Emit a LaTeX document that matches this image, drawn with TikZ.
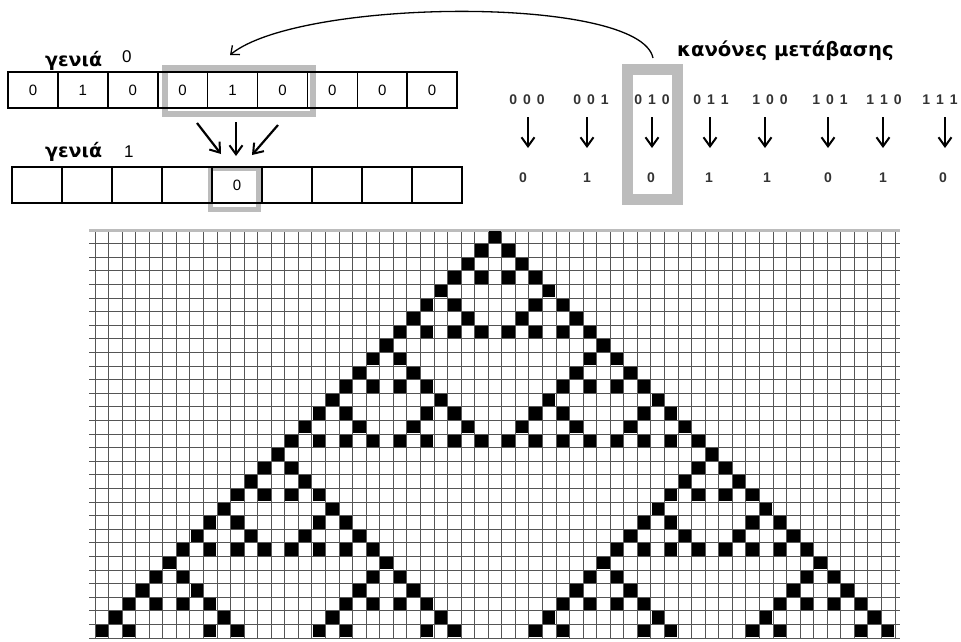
\documentclass[tikz,border=0pt]{standalone}
\usepackage{fontspec}
\setmainfont{Liberation Sans}
\newfontfamily\grk{DejaVu Sans}
\usetikzlibrary{arrows.meta,backgrounds}
\definecolor{hl}{RGB}{188,188,188}
\definecolor{gridc}{RGB}{85,85,85}
\newcommand\myspaced[3]{#1\hspace{6pt}#2\hspace{6pt}#3}
\begin{document}
\begin{tikzpicture}[x=1pt,y=-1pt,
  cellbox/.style={draw=black,line width=1.6pt,minimum width=49.9pt,minimum height=36pt,inner sep=0pt,font=\fontsize{15}{15}\selectfont},
  genlabel/.style={font=\grk\bfseries\fontsize{19}{19}\selectfont,inner sep=0pt,anchor=base west},
  gennum/.style={font=\fontsize{17}{17}\selectfont,inner sep=0pt,anchor=base west},
  rulelbl/.style={font=\bfseries\fontsize{14}{14}\selectfont,text=black!80,inner sep=0pt},
  downarrow/.style={line width=2.2pt,-{Straight Barb[length=9pt,width=13pt,line width=2pt]}},
  hlframe/.style={draw=hl},
  gridline/.style={draw=gridc,line width=0.9pt},
]
\useasboundingbox (0,0) rectangle (961,641);

% generation 0
\node[genlabel] (lab0) at (45,66) {γενιά};
\node[gennum] (num0) at (122,62) {0};
\foreach \d [count=\i from 0] in {0,1,0,0,1,0,0,0,0}
  \node[cellbox] (g0c\i) at ({8+49.9*(\i+0.5)},90) {\d};

% generation 1
\node[genlabel] (lab1) at (45,157) {γενιά};
\node[gennum] (num1) at (124,157) {1};
\foreach \d [count=\i from 0] in {{},{},{},{},0,{},{},{},{}}
  \node[cellbox,minimum width=50pt] (g1c\i) at ({12+50*(\i+0.5)},185) {\d};

\begin{scope}[on background layer]
  \draw[hlframe,line width=6pt] (165,68) rectangle (313,114);
  \draw[hlframe,line width=5pt] (210,168) rectangle (258,209);
  \draw[hlframe,line width=11pt] (627.5,69) rectangle (677,199);
\end{scope}

% arrows to generation 1
\coordinate (a0) at (197,123); \coordinate (b0) at (221,154);
\coordinate (a1) at (236,122); \coordinate (b1) at (236,156);
\coordinate (a2) at (278,125); \coordinate (b2) at (252,155);
\draw[downarrow] (a0) -- (b0);
\draw[downarrow] (a1) -- (b1);
\draw[downarrow] (a2) -- (b2);

% rules
\node[font=\grk\bfseries\fontsize{19.6}{19.6}\selectfont,inner sep=0pt,anchor=base west] (title) at (677,56) {κανόνες μετάβασης};
\foreach \t/\xl/\xa/\xo/\o [count=\i from 0] in
  {000/527/528/523/0, 001/591/587/587/1, 010/652/652/651/0, 011/711/710/709/1,
   100/770/765/767/1, 101/830/828/828/0, 110/884/883/883/1, 111/940/945/943/0}{
  \node[rulelbl] (r\i) at (\xl,100) {\expandafter\myspaced\t};
  \coordinate (ra\i) at (\xa,117);
  \coordinate (rb\i) at (\xa,148);
  \draw[downarrow] (ra\i) -- (rb\i);
  \node[rulelbl] (o\i) at (\xo,178) {\o};
}

% curved arrow
\coordinate (cstart) at (653,58);
\coordinate (ctip) at (230,55);
\draw[line width=1.3pt,-{Straight Barb[length=7pt,width=12pt,line width=1.3pt]}] (cstart) .. controls (640,-5) and (300,-2) .. (ctip);

% grid
\foreach \i in {0,...,30}
  \draw[gridline] (89,{230+\i*13.6}) -- (900,{230+\i*13.6});
\foreach \j in {0,...,59}
  \draw[gridline] ({95+\j*13.559},230) -- ({95+\j*13.559},638);
\draw[line width=3pt,draw=hl] (89,230) -- (900,230);

% rule 90 evolution
\foreach \n in {0,...,29}{
  \foreach \k in {0,...,\n}{
    \pgfmathtruncatemacro\flag{(1-mod(\k,2)*(1-mod(\n,2)))*(1-mod(floor(\k/2),2)*(1-mod(floor(\n/2),2)))*(1-mod(floor(\k/4),2)*(1-mod(floor(\n/4),2)))*(1-mod(floor(\k/8),2)*(1-mod(floor(\n/8),2)))*(1-mod(floor(\k/16),2)*(1-mod(floor(\n/16),2)))}
    \ifnum\flag=1
      \pgfmathsetmacro\cx{95+(29-\n+2*\k)*13.559}
      \pgfmathsetmacro\cy{230+\n*13.6}
      \fill (\cx+0.6,\cy+0.6) rectangle ++(12.4,12.4);
    \fi
  }
}
\end{tikzpicture}
\end{document}
